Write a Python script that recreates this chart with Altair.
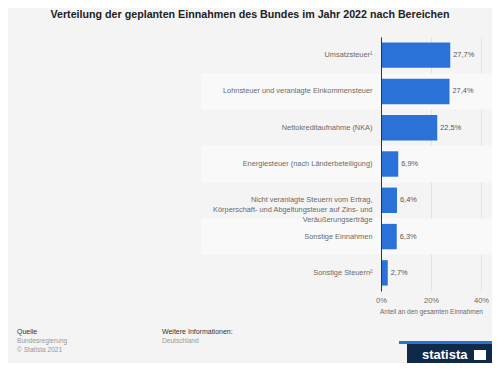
import altair as alt
import pandas as pd

categories = [
    "Umsatzsteuer¹",
    "Lohnsteuer und veranlagte Einkommensteuer",
    "Nettokreditaufnahme (NKA)",
    "Energiesteuer (nach Länderbeteiligung)",
    "Nicht veranlagte Steuern vom Ertrag,|Körperschaft- und Abgeltungsteuer auf Zins- und|Veräußerungserträge",
    "Sonstige Einnahmen",
    "Sonstige Steuern²",
]
values = [27.7, 27.4, 22.5, 6.9, 6.4, 6.3, 2.7]
x_ticks = [0, 10, 20, 30, 40]

df = pd.DataFrame({
    "cat": categories,
    "val": values,
    "lbl": [f"{v:.1f}".replace(".", ",") + "%" for v in values],
    "band": [i % 2 == 1 for i in range(len(categories))],
})

W, H = 100, 254
FONT = "Liberation Sans"
BLUE = "#2a72d8"
PAD_IN = 0.3

ysort = alt.Sort(categories)
yscale = alt.Scale(paddingInner=PAD_IN, paddingOuter=PAD_IN / 2)

bands = alt.Chart(df).mark_bar(color="#f9f9f9", height={"band": 1 / (1 - PAD_IN)}).encode(
    y=alt.Y("cat:N", sort=ysort, scale=yscale),
    x=alt.value(-180), x2=alt.value(W + 12),
    opacity=alt.condition("datum.band", alt.value(1), alt.value(0)),
)

bars = alt.Chart(df).mark_bar(color=BLUE).encode(
    y=alt.Y("cat:N", sort=ysort, title=None, scale=yscale,
            axis=alt.Axis(labelExpr="split(datum.label, '|')", labelFont=FONT, labelFontSize=7.4,
                          labelColor="#6a6a6a", labelPadding=9, labelLimit=400, ticks=False,
                          domain=True, domainColor="#333333", domainWidth=1, grid=False,
                          labelLineHeight=10, zindex=2)),
    x=alt.X("val:Q", scale=alt.Scale(domain=[0, 40], nice=False),
            axis=alt.Axis(values=x_ticks, labelExpr="datum.value + '%'", title="Anteil an den gesamten Einnahmen",
                          labelFont=FONT, labelFontSize=7.6, labelColor="#6a6a6a", labelPadding=5,
                          titleFont=FONT, titleFontSize=6.5, titleColor="#6a6a6a", titleFontWeight="normal",
                          titlePadding=5, ticks=False, domain=False, grid=True, gridColor="#e2e2e2",
                          labelFlush=False)),
)

texts = alt.Chart(df).mark_text(align="left", baseline="middle", dx=3, font=FONT, fontSize=7.4,
                                color="#555555").encode(
    y=alt.Y("cat:N", sort=ysort),
    x="val:Q",
    text="lbl:N",
)

one = pd.DataFrame({"a": [0]})
def txt(s, x, y, size=8, color="#999999", weight="normal", align="left"):
    return alt.Chart(one).mark_text(text=s, align=align, baseline="middle", font=FONT, fontSize=size,
                                    color=color, fontWeight=weight).encode(x=alt.value(x), y=alt.value(y))

title = txt("Verteilung der geplanten Einnahmen des Bundes im Jahr 2022 nach Bereichen", -131, -22,
            size=10.7, color="#222222", weight="bold", align="center")
f1 = txt("Quelle", -364, 295, size=7, color="#333333")
f2 = txt("Bundesregierung", -364, 304, size=6.6)
f3 = txt("© Statista 2021", -364, 313, size=6.6)
f4 = txt("Weitere Informationen:", -219, 295, size=7, color="#333333")
f5 = txt("Deutschland", -219, 304, size=6.6)

logo_curve = alt.Chart(one).mark_rect(color="#2a72d8").encode(
    x=alt.value(18), x2=alt.value(W + 12), y=alt.value(304), y2=alt.value(307))
logo_bg = alt.Chart(one).mark_rect(color="#0f2a48").encode(
    x=alt.value(26), x2=alt.value(W + 12), y=alt.value(307), y2=alt.value(330))
logo_txt = txt("statista", 41, 318, size=13, color="#ffffff", weight="bold")
logo_icon = alt.Chart(one).mark_rect(color="#ffffff").encode(
    x=alt.value(93), x2=alt.value(105), y=alt.value(313), y2=alt.value(323))

chart = alt.layer(bands, bars, texts, title, f1, f2, f3, f4, f5,
                  logo_curve, logo_bg, logo_txt, logo_icon).properties(
    width=W, height=H,
    autosize=alt.AutoSizeParams(type="none"),
    padding={"left": 373, "top": 29, "right": 11, "bottom": 72},
    background="#f4f4f4",
).configure_view(stroke=None)

chart.save("out.html", embed_options={"renderer": "svg", "actions": False})
